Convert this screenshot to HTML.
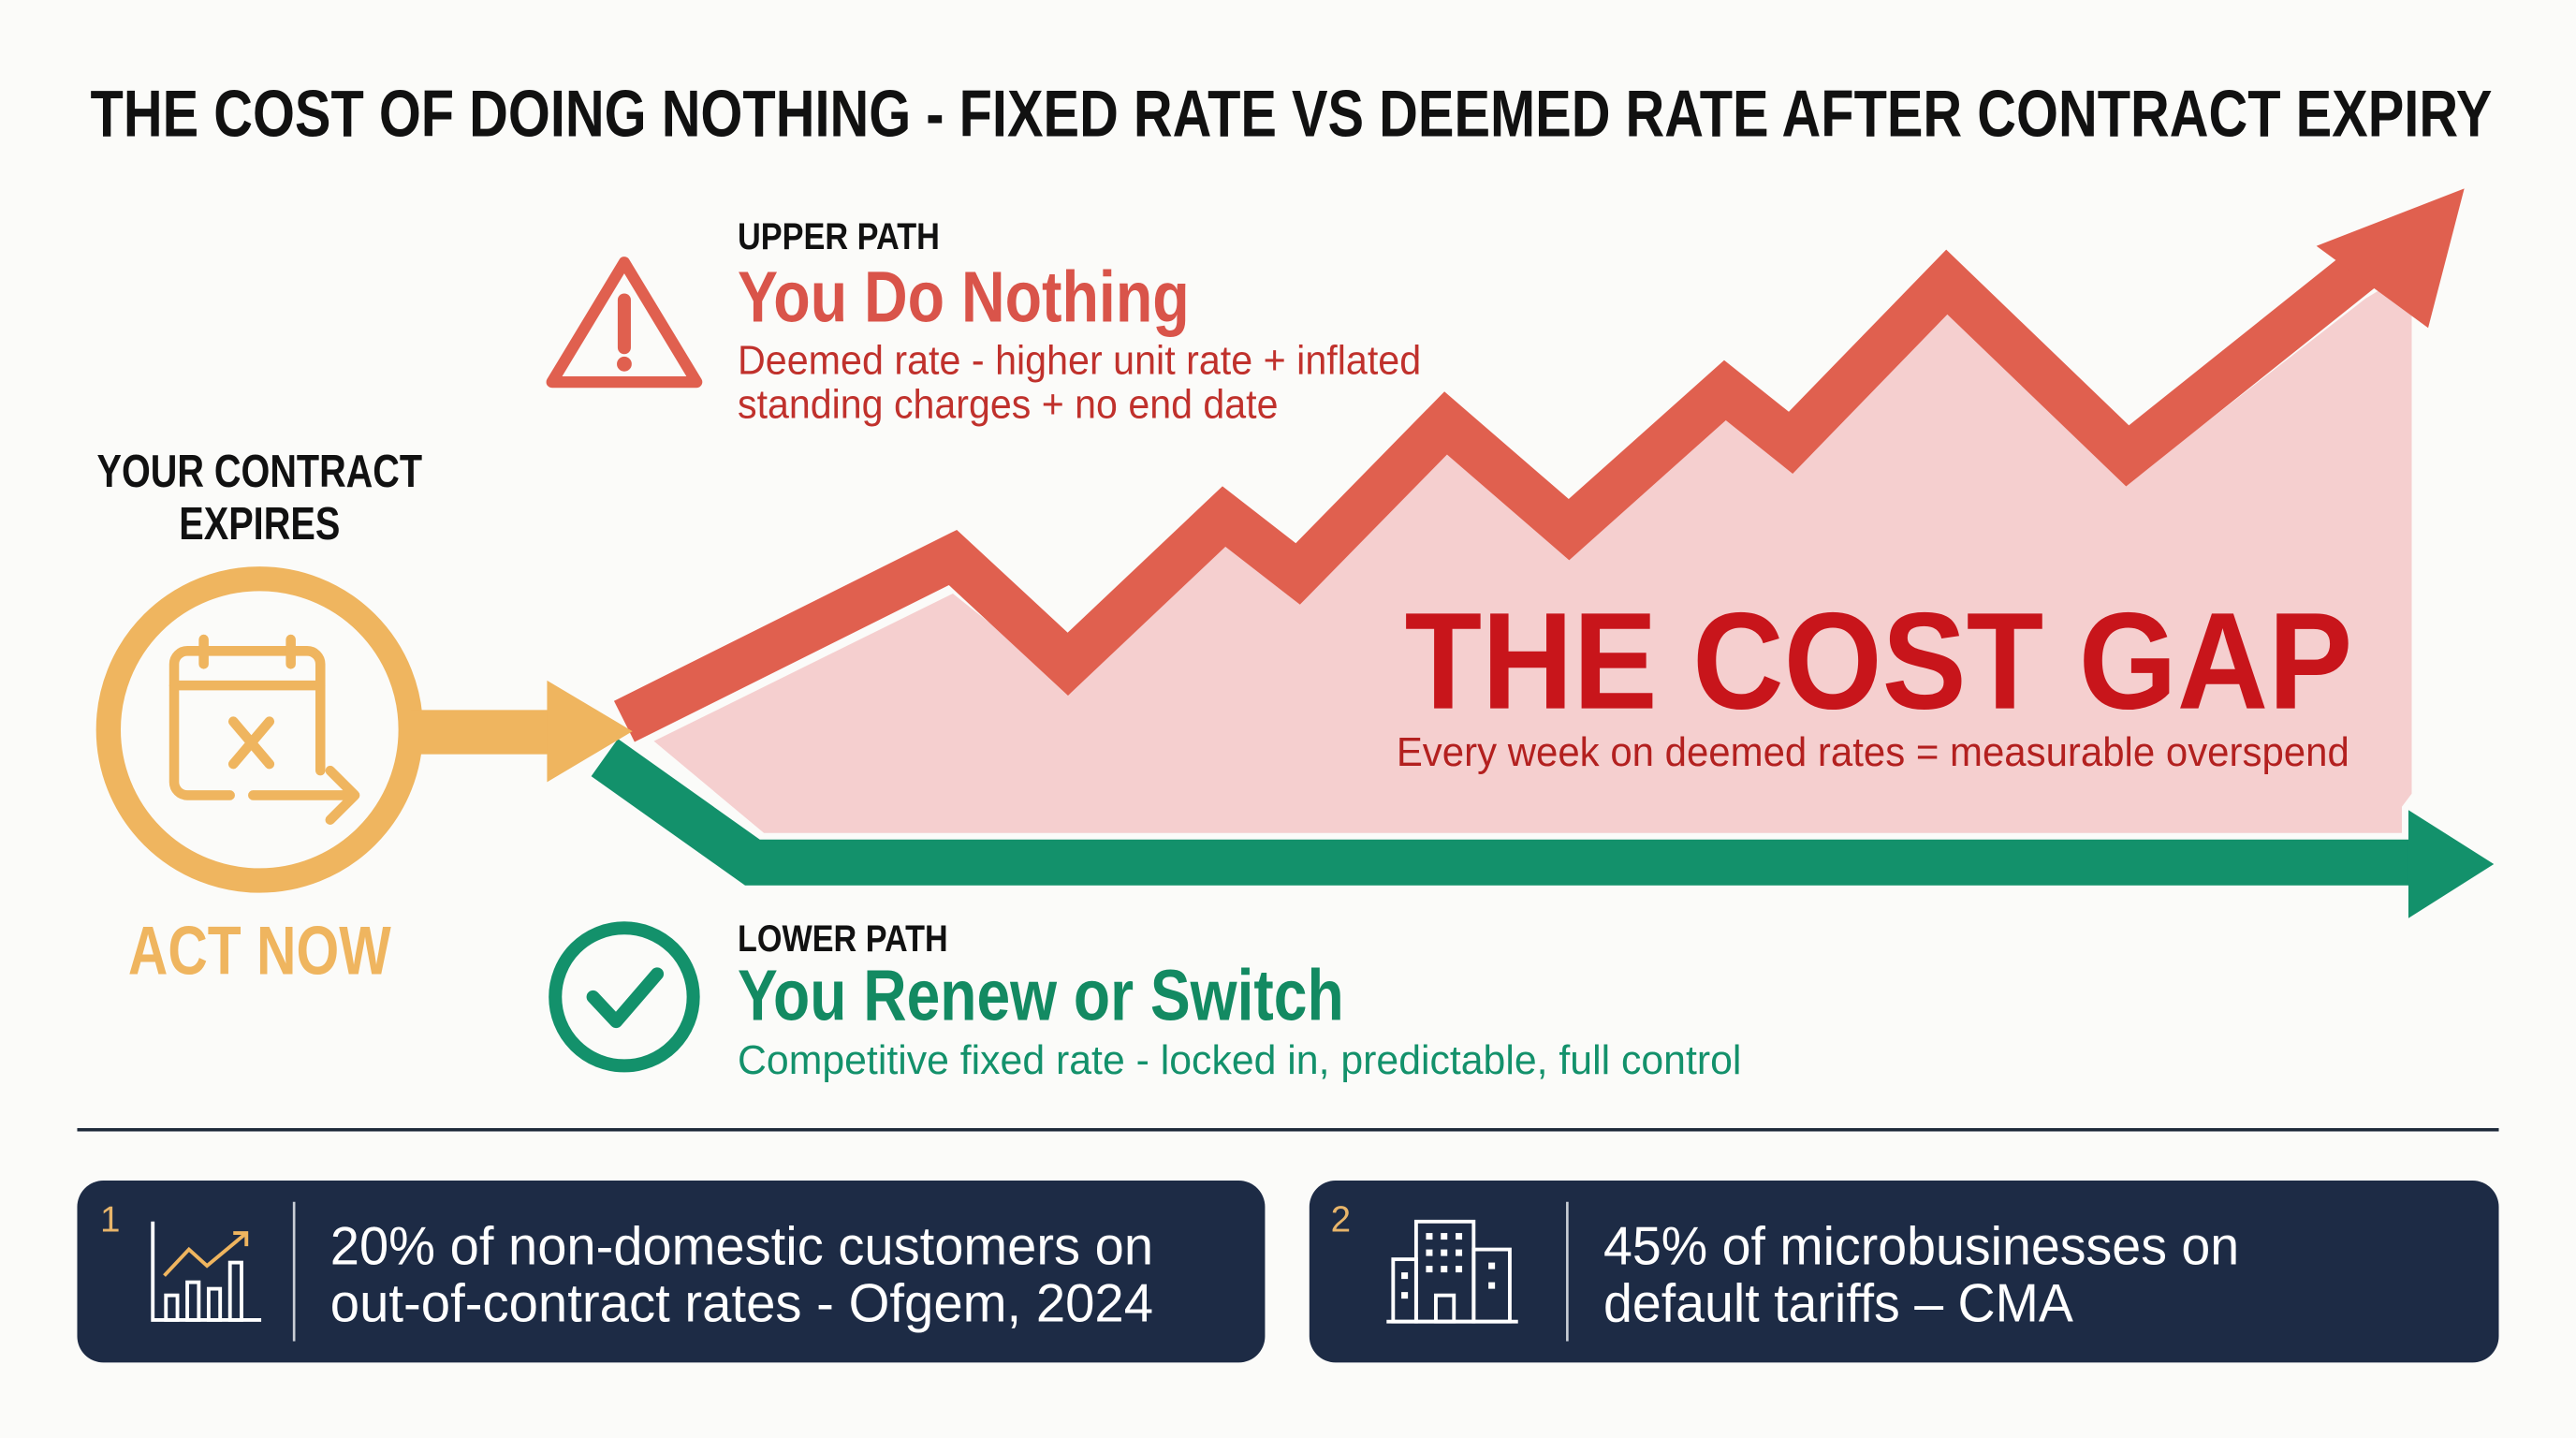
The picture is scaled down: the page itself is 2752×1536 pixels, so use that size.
<!DOCTYPE html>
<html><head><meta charset="utf-8"><style>
html,body{margin:0;padding:0;background:#fbfbf9;}
svg{display:block;}
text{font-family:"Liberation Sans",sans-serif;}
</style></head><body>
<svg width="2752" height="1536" viewBox="0 0 1568 877" preserveAspectRatio="none" xmlns="http://www.w3.org/2000/svg">
<rect width="1568" height="877" fill="#fbfbf9"/>
<text x="55" y="83" font-size="40" font-weight="bold" fill="#111" textLength="1462" lengthAdjust="spacingAndGlyphs">THE COST OF DOING NOTHING - FIXED RATE VS DEEMED RATE AFTER CONTRACT EXPIRY</text>

<!-- pink gap area -->
<polygon points="398,452 580,362 650,418 745,330 790,362 880,274 955,338 1050,255 1090,285 1185,190 1295,295 1440,182 1468,165 1468,484 1462,492 1462,508 465,508" fill="#f5cfcf"/>
<!-- red zigzag -->
<polyline points="380,440 580,340 650,405 745,315 790,350 880,258 955,323 1050,238 1090,270 1185,172 1295,278 1455,150" fill="none" stroke="#e0604f" stroke-width="28" stroke-linejoin="miter" stroke-miterlimit="3"/>
<polygon points="1410,150 1500,115 1478,200" fill="#e0604f"/>
<!-- green path -->
<polyline points="368,462 458,526 1470,526" fill="none" stroke="#13916b" stroke-width="28" stroke-linejoin="miter"/>
<polygon points="1466,494 1518,527 1466,560" fill="#13916b"/>

<!-- yellow circle & arrow -->
<circle cx="158" cy="445" r="92" fill="none" stroke="#efb55f" stroke-width="15"/>
<rect x="250" y="433" width="90" height="27" fill="#efb55f"/>
<polygon points="333,415 385,446 333,477" fill="#efb55f"/>
<g fill="none" stroke="#efb55f" stroke-width="6" stroke-linecap="round" stroke-linejoin="round">
<path d="M195,470 V405 a8,8 0 0 0 -8,-8 H114 a8,8 0 0 0 -8,8 V477 a8,8 0 0 0 8,8 H140"/>
<line x1="106" y1="418" x2="195" y2="418"/>
<line x1="124" y1="390" x2="124" y2="405"/><line x1="177" y1="390" x2="177" y2="405"/>
<line x1="142" y1="440" x2="164" y2="466"/><line x1="164" y1="440" x2="142" y2="466"/>
<path d="M154,485 H215 M201,470 L216,485 L201,500"/>
</g>
<text x="158" y="297" font-size="28" font-weight="bold" fill="#111" text-anchor="middle" textLength="198" lengthAdjust="spacingAndGlyphs">YOUR CONTRACT</text>
<text x="158" y="329" font-size="28" font-weight="bold" fill="#111" text-anchor="middle" textLength="98" lengthAdjust="spacingAndGlyphs">EXPIRES</text>
<text x="158" y="594" font-size="42" font-weight="bold" fill="#efb55f" text-anchor="middle" textLength="160" lengthAdjust="spacingAndGlyphs">ACT NOW</text>

<!-- upper path -->
<g fill="none" stroke="#e0604f" stroke-width="7" stroke-linejoin="round"><path d="M380,160 L424,233 H336 Z"/></g>
<line x1="380" y1="183" x2="380" y2="212" stroke="#e0604f" stroke-width="8" stroke-linecap="round"/>
<circle cx="380" cy="222" r="4.5" fill="#e0604f"/>
<text x="449" y="152" font-size="23" font-weight="bold" fill="#111" textLength="123" lengthAdjust="spacingAndGlyphs">UPPER PATH</text>
<text x="449" y="196" font-size="44" font-weight="bold" fill="#d9544a" textLength="275" lengthAdjust="spacingAndGlyphs">You Do Nothing</text>
<text x="449" y="228" font-size="25" fill="#c0312c" textLength="416" lengthAdjust="spacingAndGlyphs">Deemed rate - higher unit rate + inflated</text>
<text x="449" y="255" font-size="25" fill="#c0312c" textLength="329" lengthAdjust="spacingAndGlyphs">standing charges + no end date</text>

<text x="855" y="432" font-size="84" font-weight="bold" fill="#c8151b" textLength="577" lengthAdjust="spacingAndGlyphs">THE COST GAP</text>
<text x="850" y="467" font-size="25" fill="#b3201f" textLength="580" lengthAdjust="spacingAndGlyphs">Every week on deemed rates = measurable overspend</text>

<!-- lower path -->
<circle cx="380" cy="608" r="42" fill="none" stroke="#13916b" stroke-width="8"/>
<path d="M361,608 L375,623 L400,594" fill="none" stroke="#13916b" stroke-width="8" stroke-linecap="round" stroke-linejoin="round"/>
<text x="449" y="580" font-size="23" font-weight="bold" fill="#111" textLength="128" lengthAdjust="spacingAndGlyphs">LOWER PATH</text>
<text x="449" y="622" font-size="44" font-weight="bold" fill="#138a62" textLength="369" lengthAdjust="spacingAndGlyphs">You Renew or Switch</text>
<text x="449" y="655" font-size="25" fill="#13916b" textLength="611" lengthAdjust="spacingAndGlyphs">Competitive fixed rate - locked in, predictable, full control</text>

<line x1="47" y1="689" x2="1521" y2="689" stroke="#1e2a3a" stroke-width="2"/>

<!-- boxes -->
<rect x="47" y="720" width="723" height="111" rx="16" fill="#1d2b45"/>
<rect x="797" y="720" width="724" height="111" rx="16" fill="#1d2b45"/>
<text x="61" y="751" font-size="22" fill="#e8b56a">1</text>
<text x="810" y="751" font-size="22" fill="#e8b56a">2</text>
<line x1="179" y1="733" x2="179" y2="818" stroke="#c9ced6" stroke-width="1.5"/>
<line x1="954" y1="733" x2="954" y2="818" stroke="#c9ced6" stroke-width="1.5"/>
<g fill="none" stroke="#fff" stroke-width="2.2">
<path d="M93,745 V805 H159"/>
<rect x="101" y="790" width="7" height="15"/><rect x="114" y="782" width="7" height="23"/><rect x="127" y="786" width="7" height="19"/><rect x="140" y="770" width="7" height="35"/>
<path d="M100,778 L115,762 L126,772 L150,752" stroke="#efb55f"/><path d="M142,752 H150 V760" stroke="#efb55f"/>
<rect x="862" y="745" width="35" height="61"/><rect x="848" y="768" width="14" height="38"/><rect x="897" y="762" width="22" height="44"/>
<path d="M844,806 H924"/><rect x="874" y="790" width="11" height="16"/>
</g>
<g fill="#fff">
<rect x="868" y="752" width="4" height="4"/><rect x="877" y="752" width="4" height="4"/><rect x="886" y="752" width="4" height="4"/>
<rect x="868" y="762" width="4" height="4"/><rect x="877" y="762" width="4" height="4"/><rect x="886" y="762" width="4" height="4"/>
<rect x="868" y="772" width="4" height="4"/><rect x="877" y="772" width="4" height="4"/><rect x="886" y="772" width="4" height="4"/>
<rect x="853" y="776" width="4" height="4"/><rect x="853" y="788" width="4" height="4"/>
<rect x="906" y="770" width="4" height="4"/><rect x="906" y="782" width="4" height="4"/>
</g>
<text x="201" y="771" font-size="33" fill="#fff" textLength="501" lengthAdjust="spacingAndGlyphs">20% of non-domestic customers on</text>
<text x="201" y="806" font-size="33" fill="#fff" textLength="501" lengthAdjust="spacingAndGlyphs">out-of-contract rates - Ofgem, 2024</text>
<text x="976" y="771" font-size="33" fill="#fff" textLength="387" lengthAdjust="spacingAndGlyphs">45% of microbusinesses on</text>
<text x="976" y="806" font-size="33" fill="#fff" textLength="286" lengthAdjust="spacingAndGlyphs">default tariffs – CMA</text>
</svg>
</body></html>
